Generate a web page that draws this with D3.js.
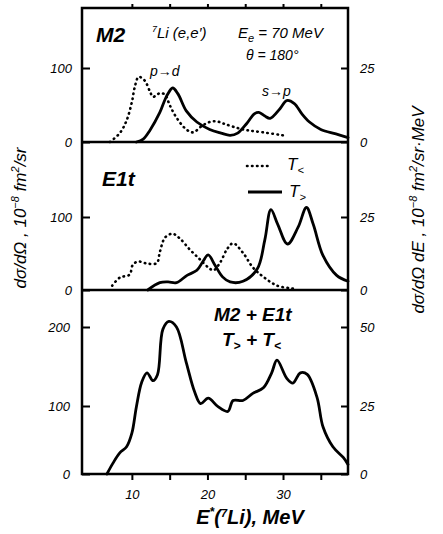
<!DOCTYPE html>
<html>
  <script src="https://d3js.org/d3.v7.min.js" type="text/JavaScript"></script>
  <body style="margin:0;background:#fff">
    <svg></svg>
    <script>
// excitation energy E*(7Li) in MeV, cross sections
var m2Less = [[7.1,0],[8.4,12],[9.3,29],[10,54],[10.4,75],[10.9,88],[11.7,83],[12.4,68],[12.8,61],[13.7,66],[14.4,64],[15.0,50],[15.9,33],[17.2,17],[18.1,13],[19.3,22],[20.3,27],[21.2,28],[22.1,25],[23.6,20],[25.2,16],[27.4,13],[30,9]];
var m2Great = [[10.6,0],[11.5,4],[12.4,16],[13.7,40],[14.6,62],[15.4,73],[16.1,65],[17.2,42],[18.6,27],[20.3,17],[21.8,12],[23.0,9],[24.0,12],[25.2,25],[26.2,38],[26.8,40],[27.6,35],[28.3,32],[29.6,45],[30.5,56],[31.5,52],[32.5,38],[33.5,27],[35,17],[37,11],[38.6,6]];
var e1Less = [[7.4,6],[8.4,17],[9.7,21],[10.1,34],[10.8,39],[12.1,36],[13.3,37],[13.7,52],[14.4,72],[15.4,77],[16.4,70],[17.7,55],[19,42],[20.1,31],[20.8,27],[21.7,38],[22.6,56],[23.4,64],[24.7,51],[26,31],[27.4,18],[29.2,6],[31.3,2]];
var e1Great = [[12.1,0],[13.7,10],[14.8,11],[15.9,10],[17.3,20],[18.6,27],[19.4,39],[20.1,48],[21,34],[22,18],[23,11],[24.7,12],[26.6,29],[27.6,69],[28.4,110],[29.3,90],[30.6,63],[32,86],[33.1,113],[34,90],[35.3,47],[37.1,20],[38.6,12]];
var sumTotal = [[6.7,0],[7.5,16],[8.4,31],[9.3,40],[10,60],[10.6,99],[11.3,130],[12,142],[12.8,132],[13.4,140],[14.1,197],[14.9,207],[15.9,200],[17.2,155],[18.3,118],[19.1,103],[20.1,110],[21.4,99],[22.7,92],[23.4,107],[24.7,107],[26,116],[27.4,123],[28.5,142],[29.2,158],[30.5,135],[31.3,129],[32.3,142],[33.2,140],[34.5,111],[35.3,69],[36.6,40],[38,24],[38.6,14]];

var xTicks = [10, 15, 20, 25, 30, 35];
var xLabels = [10, 20, 30];
var topTicks = [0, 100], topRight = [0, 25];
var midTicks = [0, 100], midRight = [0, 25];
var botTicks = [0, 100, 200], botRight = [0, 25, 50];

var W = 443, H = 534;
var L = 82, R = 348, T = 8, S1 = 142, S2 = 290, B = 474;

var svg = d3.select('svg').attr('width', W).attr('height', H)
  .style('font-family', 'Liberation Sans, Arial, sans-serif')
  .style('font-style', 'italic');

var x = d3.scaleLinear().domain([3.4, 38.6]).range([L, R]);
var yTop = d3.scaleLinear().domain([0, 100]).range([S1, 68]);
var yMid = d3.scaleLinear().domain([0, 100]).range([S2, 217]);
// the printed bottom axis is not quite even, so keep its tick spacing
var yBot = d3.scaleLinear().domain([0, 100, 200]).range([B, 406, 327]);
var rTop = d3.scaleLinear().domain([0, 25]).range([S1, 68]);
var rMid = d3.scaleLinear().domain([0, 25]).range([S2, 217]);
var rBot = d3.scaleLinear().domain([0, 25, 50]).range([B, 406, 327]);

function drawAxes(yl, yr, lt, rt, pad) {
  var gl = svg.append('g').attr('transform', 'translate(' + L + ',0)')
    .call(d3.axisLeft(yl).tickValues(lt).tickFormat(d3.format('d')).tickSize(-8).tickPadding(pad));
  var gr = svg.append('g').attr('transform', 'translate(' + R + ',0)')
    .call(d3.axisRight(yr).tickValues(rt).tickFormat(d3.format('d')).tickSize(-7).tickPadding(12));
  [gl, gr].forEach(g => {
    g.select('.domain').remove();
    g.selectAll('line').attr('stroke', '#000').attr('stroke-width', 2);
    g.selectAll('text').style('font-size', '13px').style('font-style', 'italic').attr('fill', '#000');
  });
}
drawAxes(yTop, rTop, topTicks, topRight, 10);
drawAxes(yMid, rMid, midTicks, midRight, 10);
drawAxes(yBot, rBot, botTicks, botRight, 12);

// x ticks bottom and top
var gx = svg.append('g').attr('transform', 'translate(0,' + B + ')')
  .call(d3.axisBottom(x).tickValues(xTicks).tickSize(6).tickPadding(10)
    .tickFormat(d => xLabels.indexOf(d) >= 0 ? d : ''));
gx.select('.domain').remove();
gx.selectAll('line').attr('stroke', '#000').attr('stroke-width', 2);
gx.selectAll('text').style('font-size', '13px').style('font-style', 'italic').attr('fill', '#000');
var gt = svg.append('g').attr('transform', 'translate(0,' + T + ')')
  .call(d3.axisTop(x).tickValues(xTicks).tickSize(4).tickFormat(''));
gt.select('.domain').remove();
gt.selectAll('line').attr('stroke', '#000').attr('stroke-width', 2);

// frame and panel separators
svg.append('rect').attr('x', L).attr('y', T).attr('width', R - L).attr('height', B - T)
  .attr('fill', 'none').attr('stroke', '#000').attr('stroke-width', 2.5);
[S1, S2].forEach(s => svg.append('line').attr('x1', L).attr('x2', R).attr('y1', s).attr('y2', s)
  .attr('stroke', '#000').attr('stroke-width', 2.5));

function curve(data, ys, dotted) {
  var line = d3.line().x(d => x(d[0])).y(d => ys(d[1])).curve(d3.curveCatmullRom);
  svg.append('path').attr('d', line(data)).attr('fill', 'none').attr('stroke', '#000')
    .attr('stroke-width', dotted ? 2.6 : 2.8).attr('stroke-linecap', 'round')
    .attr('stroke-dasharray', dotted ? '0.5,4.5' : null);
}
curve(m2Less, yTop, true);
curve(m2Great, yTop, false);
curve(e1Less, yMid, true);
curve(e1Great, yMid, false);
curve(sumTotal, yBot, false);

function txt(xp, yp, s, size, weight) {
  return svg.append('text').attr('x', xp).attr('y', yp).style('font-size', size + 'px')
    .style('font-weight', weight || 'normal').text(s);
}
txt(96, 42, 'M2', 21, 'bold');
var t1 = txt(152, 38, '', 15);
t1.append('tspan').attr('dy', -6).style('font-size', '9px').text('7');
t1.append('tspan').attr('dy', 6).text('Li (e,e′)');
var t2 = txt(238, 38, 'E', 15);
t2.append('tspan').attr('dy', 4).style('font-size', '11px').text('e');
t2.append('tspan').attr('dy', -4).text(' = 70 MeV');
txt(246, 60, 'θ = 180°', 14);
txt(150, 76, 'p→d', 14);
txt(262, 96, 's→p', 14);

txt(102, 186, 'E1t', 21, 'bold');
// legend
svg.append('line').attr('x1', 247).attr('x2', 272).attr('y1', 166).attr('y2', 166)
  .attr('stroke', '#000').attr('stroke-width', 2.6).attr('stroke-linecap', 'round').attr('stroke-dasharray', '0.5,4.5');
svg.append('line').attr('x1', 248).attr('x2', 282).attr('y1', 192).attr('y2', 192)
  .attr('stroke', '#000').attr('stroke-width', 2.8);
var l1 = txt(287, 170, 'T', 17);
l1.append('tspan').attr('dy', 4).style('font-size', '11px').text('<');
var l2 = txt(289, 197, 'T', 17);
l2.append('tspan').attr('dy', 4).style('font-size', '11px').text('>');

txt(214, 321, 'M2 + E1t', 19, 'bold');
var s2 = txt(222, 346, 'T', 19, 'bold');
s2.append('tspan').attr('dy', 4).style('font-size', '12px').text('>');
s2.append('tspan').attr('dy', -4).text(' + T');
s2.append('tspan').attr('dy', 4).style('font-size', '12px').text('<');

// x axis title
var xt = txt(250, 524, 'E', 20, 'bold').attr('text-anchor', 'middle');
xt.append('tspan').attr('dy', -8).style('font-size', '12px').text('*');
xt.append('tspan').attr('dy', 8).text('(');
xt.append('tspan').attr('dy', -7).style('font-size', '11px').text('7');
xt.append('tspan').attr('dy', 7).text('Li), MeV');

// y titles
function ytitle(xp, yp, parts) {
  var t = svg.append('text').attr('transform', 'translate(' + xp + ',' + yp + ') rotate(-90)')
    .attr('text-anchor', 'middle').style('font-size', '17px');
  parts.forEach(p => t.append('tspan').attr('dy', p[1]).style('font-size', p[2] ? p[2] + 'px' : null).text(p[0]));
}
ytitle(26, 218, [['dσ/dΩ ,  10', 0], ['−8', -7, 11], [' fm', 7], ['2', -7, 11], ['/sr', 7]]);
ytitle(424, 210, [['dσ/dΩ dE ,  10', 0], ['−8', -7, 11], [' fm', 7], ['2', -7, 11], ['/sr·MeV', 7]]);
    </script>
  </body>
</html>
